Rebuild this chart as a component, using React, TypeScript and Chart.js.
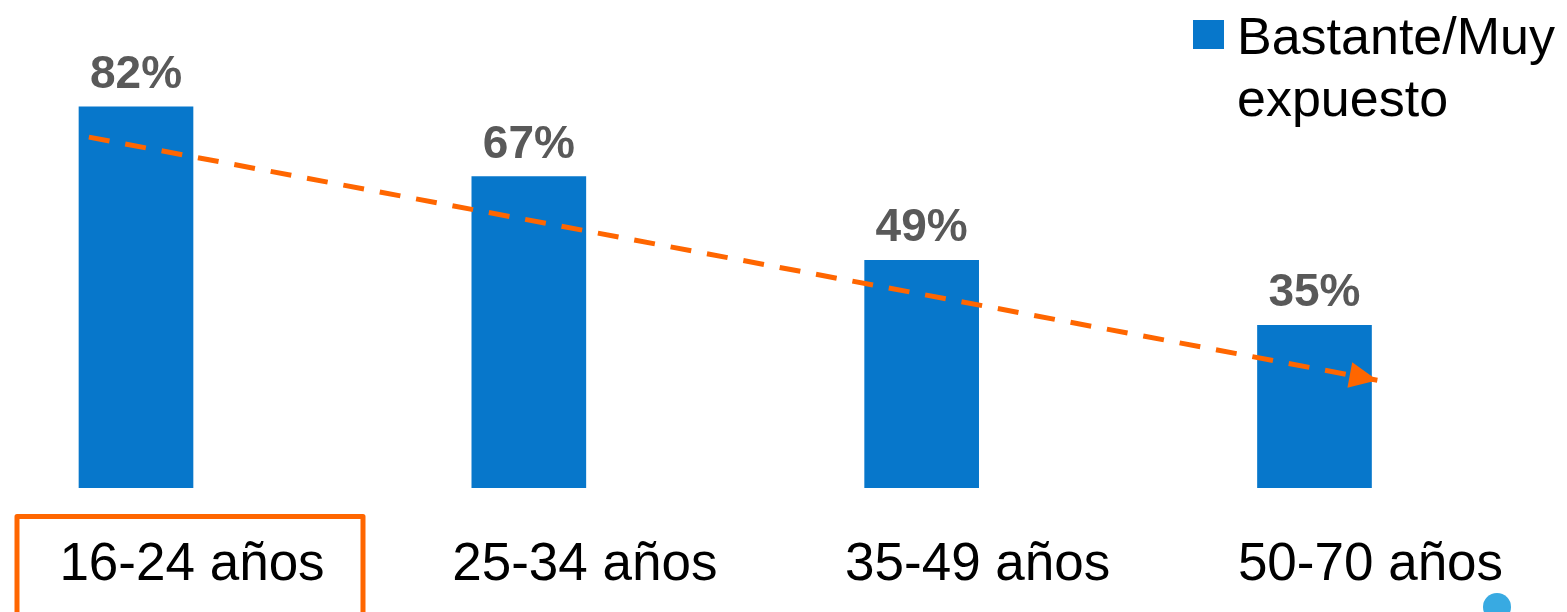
import React, { useEffect, useRef } from 'react';
import { Chart, registerables } from 'chart.js';

Chart.register(...registerables);

// ---- data ----
const categories = ['16-24 años', '25-34 años', '35-49 años', '50-70 años'];
const values = [82, 67, 49, 35];
const seriesLabelLines = ['Bastante/Muy', 'expuesto'];
const trendX = [-0.12, 3.16];
const trendY = [75.5, 23.2];
const highlightedIndex = 0;

// ---- styles ----
const FONT = '"Liberation Sans", Arial, Helvetica, sans-serif';
const BLUE = '#0777CB';
const ORANGE = '#FF6600';
const LABEL_OFFSET = 56;

const decorPlugin = {
  id: 'decor',
  afterDatasetsDraw(chart: any) {
    const ctx = chart.ctx;
    ctx.save();
    // value labels
    const meta = chart.getDatasetMeta(0);
    ctx.font = `bold 46px ${FONT}`;
    ctx.fillStyle = '#595959';
    ctx.textAlign = 'center';
    ctx.textBaseline = 'alphabetic';
    meta.data.forEach((el: any, i: number) => {
      ctx.fillText(values[i] + '%', el.x, el.y - 19);
    });
    // arrow head on trend line
    const lm = chart.getDatasetMeta(1);
    const pts = lm.data;
    const a = pts[pts.length - 2];
    const b = pts[pts.length - 1];
    const ang = Math.atan2(b.y - a.y, b.x - a.x);
    const L = 28;
    const W = 13;
    const c = Math.cos(ang);
    const s = Math.sin(ang);
    ctx.fillStyle = ORANGE;
    ctx.beginPath();
    ctx.moveTo(b.x, b.y);
    ctx.lineTo(b.x - L * c + W * s, b.y - L * s - W * c);
    ctx.lineTo(b.x - L * c - W * s, b.y - L * s + W * c);
    ctx.closePath();
    ctx.fill();
    ctx.restore();
  },
  afterDraw(chart: any) {
    const ctx = chart.ctx;
    const xs = chart.scales.x;
    ctx.save();
    // highlight box around first category label
    const cx = xs.getPixelForValue(highlightedIndex) + LABEL_OFFSET;
    ctx.strokeStyle = ORANGE;
    ctx.lineWidth = 5;
    ctx.lineJoin = 'round';
    ctx.beginPath();
    ctx.rect(cx - 175, 516.5, 346, 140);
    ctx.stroke();
    // legend
    const lx = chart.width - 374;
    ctx.fillStyle = BLUE;
    ctx.fillRect(lx, 20, 31, 29);
    ctx.fillStyle = '#000000';
    ctx.font = `52px ${FONT}`;
    ctx.textAlign = 'left';
    ctx.textBaseline = 'alphabetic';
    ctx.fillText(seriesLabelLines[0], lx + 44, 54);
    ctx.fillText(seriesLabelLines[1], lx + 44, 116);
    // small decorative dot
    ctx.fillStyle = '#38AAE2';
    ctx.beginPath();
    ctx.arc(1497, 607, 14, 0, Math.PI * 2);
    ctx.fill();
    ctx.restore();
  },
};

export default function App() {
  const ref = useRef<HTMLCanvasElement | null>(null);

  useEffect(() => {
    if (!ref.current) return;
    const chart = new Chart(ref.current, {
      type: 'bar',
      data: {
        datasets: [
          {
            type: 'bar',
            label: seriesLabelLines.join(' '),
            data: values.map((v, i) => ({ x: i, y: v })),
            backgroundColor: BLUE,
            borderWidth: 0,
            barThickness: 114,
            order: 1,
          } as any,
          {
            type: 'line',
            label: 'Tendencia',
            data: trendX.map((x, i) => ({ x, y: trendY[i] })),
            borderColor: ORANGE,
            borderWidth: 5,
            borderDash: [21, 16],
            pointRadius: 0,
            fill: false,
            order: 0,
          } as any,
        ],
      },
      options: {
        animation: false,
        responsive: true,
        maintainAspectRatio: false,
        layout: { padding: { top: 0, left: 0, right: 0, bottom: 14 } },
        plugins: {
          legend: { display: false },
          tooltip: { enabled: false },
        },
        scales: {
          x: {
            type: 'linear',
            offset: false,
            min: -0.3462,
            max: 3.6428,
            grid: { display: false, drawTicks: false, offset: false },
            border: { display: false },
            afterBuildTicks: (axis: any) => {
              axis.ticks = categories.map((_, i) => ({ value: i }));
            },
            afterFit: (axis: any) => {
              axis.paddingLeft = 0;
              axis.paddingRight = 0;
              axis.height = 110;
            },
            ticks: {
              padding: 46,
              labelOffset: LABEL_OFFSET,
              color: '#000000',
              maxRotation: 0,
              minRotation: 0,
              autoSkip: false,
              font: { family: FONT, size: 53, lineHeight: 1.2 },
              callback: (v: any) => categories[Math.round(Number(v))] ?? '',
            },
          },
          y: {
            display: false,
            min: 0,
            max: 105,
          },
        },
      } as any,
      plugins: [decorPlugin],
    });
    return () => chart.destroy();
  }, []);

  return (
    <div style={{ position: 'absolute', left: 0, top: 0, width: 1567, height: 612 }}>
      <canvas ref={ref} />
    </div>
  );
}
